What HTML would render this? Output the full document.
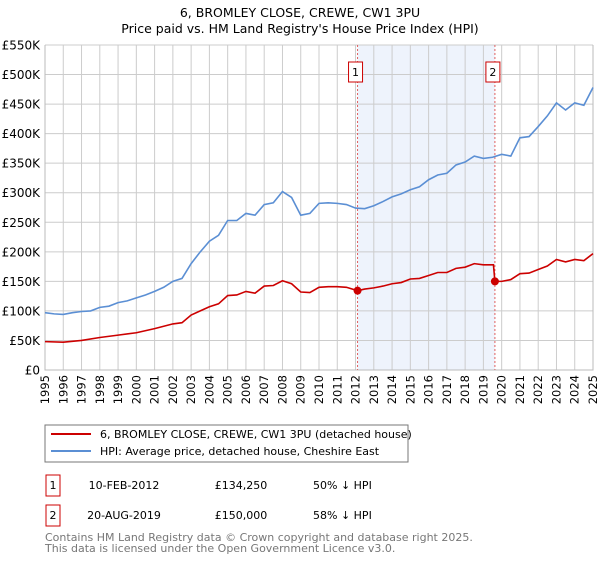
<!DOCTYPE html>
<html><head><meta charset="utf-8"><style>
body{margin:0;background:#fff;font-family:"Liberation Sans","DejaVu Sans",sans-serif;}
svg text{font-family:"DejaVu Sans","Liberation Sans",sans-serif;}
</style></head><body>
<svg id="c" width="600" height="560" xmlns="http://www.w3.org/2000/svg">
<text x="300" y="17" text-anchor="middle" font-size="12.5">6, BROMLEY CLOSE, CREWE, CW1 3PU</text>
<text x="300" y="33" text-anchor="middle" font-size="12.5">Price paid vs. HM Land Registry's House Price Index (HPI)</text>
<g id="plot"></g>
<g>
<rect x="45" y="425" width="363" height="37" fill="#fff" stroke="#777" stroke-width="1"/>
<line x1="51" y1="434" x2="91" y2="434" stroke="#cc0000" stroke-width="2"/>
<text x="100" y="438" font-size="11">6, BROMLEY CLOSE, CREWE, CW1 3PU (detached house)</text>
<line x1="51" y1="451" x2="91" y2="451" stroke="#5b8fd4" stroke-width="2"/>
<text x="100" y="455" font-size="11">HPI: Average price, detached house, Cheshire East</text>
</g>
<g>
<rect x="46" y="475" width="14" height="21" fill="#fff" stroke="#cc0000"/>
<text x="53" y="489" text-anchor="middle" font-size="11">1</text>
<text x="124" y="489" text-anchor="middle" font-size="11">10-FEB-2012</text>
<text x="241" y="489" text-anchor="middle" font-size="11">£134,250</text>
<text x="313" y="489" font-size="11">50% ↓ HPI</text>
</g>
<g>
<rect x="46" y="505" width="14" height="21" fill="#fff" stroke="#cc0000"/>
<text x="53" y="519" text-anchor="middle" font-size="11">2</text>
<text x="124" y="519" text-anchor="middle" font-size="11">20-AUG-2019</text>
<text x="241" y="519" text-anchor="middle" font-size="11">£150,000</text>
<text x="313" y="519" font-size="11">58% ↓ HPI</text>
</g>
<text x="45" y="541" font-size="11" fill="#777">Contains HM Land Registry data © Crown copyright and database right 2025.</text>
<text x="45" y="552" font-size="11" fill="#777">This data is licensed under the Open Government Licence v3.0.</text>
</svg>
<script>
const hpiYears=[1995,1995.5,1996,1996.5,1997,1997.5,1998,1998.5,1999,1999.5,2000,2000.5,2001,2001.5,2002,2002.5,2003,2003.5,2004,2004.5,2005,2005.5,2006,2006.5,2007,2007.5,2008,2008.5,2009,2009.5,2010,2010.5,2011,2011.5,2012,2012.5,2013,2013.5,2014,2014.5,2015,2015.5,2016,2016.5,2017,2017.5,2018,2018.5,2019,2019.5,2020,2020.5,2021,2021.5,2022,2022.5,2023,2023.5,2024,2024.5,2025];
const hpiValues=[97,95,94,97,99,100,106,108,114,117,122,127,133,140,150,155,180,200,218,228,253,253,265,262,280,283,302,292,262,265,282,283,282,280,274,273,278,285,293,298,305,310,322,330,333,347,352,362,358,360,365,362,393,395,412,430,452,440,452,448,478];
const priceYears=[1995,1996,1997,1998,1999,2000,2001,2002,2002.5,2003,2003.5,2004,2004.5,2005,2005.5,2006,2006.5,2007,2007.5,2008,2008.5,2009,2009.5,2010,2010.5,2011,2011.5,2012.11,2012.5,2013,2013.5,2014,2014.5,2015,2015.5,2016,2016.5,2017,2017.5,2018,2018.5,2019,2019.55,2019.63,2020,2020.5,2021,2021.5,2022,2022.5,2023,2023.5,2024,2024.5,2025];
const priceValues=[48,47,50,55,59,63,70,78,80,93,100,107,112,126,127,133,130,142,143,151,146,132,131,140,141,141,140,134.25,137,139,142,146,148,154,155,160,165,165,172,174,180,178,178,150,150,153,163,164,170,176,187,183,187,185,197];
const saleYears=[2012.11,2019.63];
const saleValues=[134.25,150];
const saleLabels=["1","2"];
const yTicks=[0,50,100,150,200,250,300,350,400,450,500,550];
const yTickLabels=["£0","£50K","£100K","£150K","£200K","£250K","£300K","£350K","£400K","£450K","£500K","£550K"];
const xTicks=[1995,1996,1997,1998,1999,2000,2001,2002,2003,2004,2005,2006,2007,2008,2009,2010,2011,2012,2013,2014,2015,2016,2017,2018,2019,2020,2021,2022,2023,2024,2025];

const L=45,R=593,T=45,B=370;
const xs=y=>L+(y-1995)/30*(R-L);
const ys=v=>B-v/550*(B-T);
const NS="http://www.w3.org/2000/svg";
const g=document.getElementById('plot');
function mk(t,a){const e=document.createElementNS(NS,t);for(const k in a)e.setAttribute(k,a[k]);g.appendChild(e);return e;}
const sh=mk('rect',{x:xs(saleYears[0]),y:T,width:xs(saleYears[1])-xs(saleYears[0]),height:B-T,fill:'#eef3fc'});


xTicks.forEach((t,i)=>{
 const l=mk('line',{x1:xs(t),x2:xs(t),y1:T,y2:B,stroke:'#ccc','stroke-width':1});
 
 
 const tx=mk('text',{x:0,y:0,'font-size':11.5,'text-anchor':'end',transform:`translate(${xs(t)+4},${B+5}) rotate(-90)`});
 tx.textContent=t;
 
 
});
yTicks.forEach((t,i)=>{
 const l=mk('line',{x1:L,x2:R,y1:ys(t),y2:ys(t),stroke:'#ccc','stroke-width':1});
 
 
 const tx=mk('text',{x:L-5,y:ys(t)+4.5,'font-size':12,'text-anchor':'end'});
 tx.textContent=yTickLabels[i];
 
 
});
const ax=mk('path',{d:`M${L},${T}V${B}H${R}V${T}`,fill:'none',stroke:'#bbb'});


saleYears.forEach((s,i)=>{
 const l=mk('line',{x1:xs(s),x2:xs(s),y1:T,y2:B,stroke:'#e06060','stroke-dasharray':'2,2','stroke-width':1});
 
 
 const r=mk('rect',{x:xs(s)-9,y:62,width:14,height:20,fill:'#fff',stroke:'#cc0000'});
 
 
 const tx=mk('text',{x:xs(s)-2,y:76,'font-size':11,'text-anchor':'middle'});
 tx.textContent=saleLabels[i];
 
 
});
const hp=mk('polyline',{points:hpiYears.map((y,i)=>xs(y)+','+ys(hpiValues[i])).join(' '),fill:'none',stroke:'#5b8fd4','stroke-width':1.6});


const pp=mk('polyline',{points:priceYears.map((y,i)=>xs(y)+','+ys(priceValues[i])).join(' '),fill:'none',stroke:'#cc0000','stroke-width':1.6});


saleYears.forEach((s,i)=>{
 const c=mk('circle',{cx:xs(s),cy:ys(saleValues[i]),r:4,fill:'#cc0000'});
 
 
});
</script>
</body></html>
